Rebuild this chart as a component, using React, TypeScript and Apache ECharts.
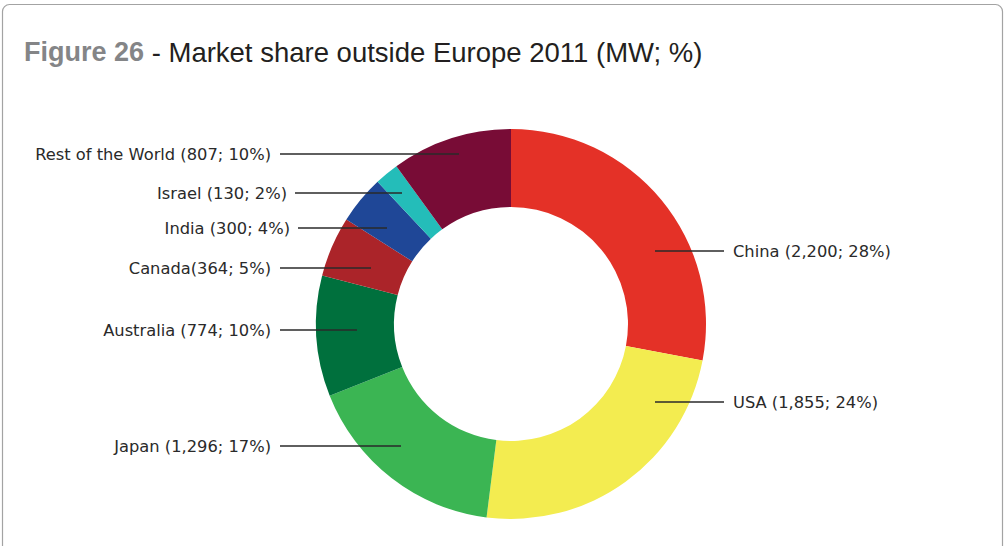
import React, { useEffect, useRef } from "react";
import * as echarts from "echarts";

const countries = ["China", "USA", "Japan", "Australia", "Canada", "India", "Israel", "Rest of the World"];
const capacityMW = [2200, 1855, 1296, 774, 364, 300, 130, 807];
const sharePct = [28, 24, 17, 10, 5, 4, 2, 10];
const colors = ["#e43127", "#f3ec50", "#3bb553", "#00703d", "#ab2429", "#1f4797", "#24bdb9", "#780c36"];

// label layout (pixel positions of label text and guide lines)
const labelLayoutSpec = [
  { side: "right", y: 251, x0: 655, x1: 724, tx: 733 },
  { side: "right", y: 402, x0: 655, x1: 724, tx: 733 },
  { side: "left", y: 446, x0: 401, x1: 280, tx: 271 },
  { side: "left", y: 330, x0: 357, x1: 280, tx: 271 },
  { side: "left", y: 268, x0: 371, x1: 280, tx: 271 },
  { side: "left", y: 228, x0: 387, x1: 298, tx: 290 },
  { side: "left", y: 193, x0: 402, x1: 295, tx: 287 },
  { side: "left", y: 154, x0: 459, x1: 280, tx: 271 },
];

const fmt = (v: number) => v.toLocaleString("en-US");

export default function App() {
  const ref = useRef<HTMLDivElement>(null);
  useEffect(() => {
    if (!ref.current) return;
    const chart = echarts.init(ref.current, null, { renderer: "svg" });
    const makeData = (fill: boolean) =>
      countries.map((name, i) => ({
        name,
        value: sharePct[i],
        mw: capacityMW[i],
        itemStyle: { color: fill ? colors[i] : "rgba(0,0,0,0)" },
      }));
    const common = {
      type: "pie",
      center: [511, 324],
      radius: [117, 195],
      startAngle: 90,
      clockwise: true,
      silent: true,
      emphasis: { disabled: true },
    };
    chart.setOption({
      animation: false,
      graphic: [
        {
          type: "rect",
          shape: { x: 2.5, y: 4.5, width: 1000, height: 580, r: 7 },
          style: { fill: "#fff", stroke: "#a3a3a3", lineWidth: 1.2 },
          z: -10,
        },
      ],
      title: {
        left: 24,
        top: 36,
        padding: 0,
        text: "{a|Figure 26}{b| - Market share outside Europe 2011 (MW; %)}",
        textStyle: {
          rich: {
            a: { fontFamily: "Liberation Sans", fontSize: 27, fontWeight: "bold", color: "#848587", lineHeight: 32 },
            b: { fontFamily: "Liberation Sans", fontSize: 27.5, fontWeight: "normal", color: "#231f20", lineHeight: 32 },
          },
        },
      },
      series: [
        {
          ...common,
          z: 2,
          data: makeData(true),
          itemStyle: { borderWidth: 0 },
          label: { show: false },
          labelLine: { show: false },
        },
        {
          ...common,
          z: 5,
          data: makeData(false),
          itemStyle: { borderWidth: 0 },
          label: {
            show: true,
            position: "outside",
            fontFamily: "DejaVu Sans",
            fontSize: 16.3,
            color: "#2a2a2a",
            formatter: (p: any) =>
              `${p.name}${p.name === "Canada" ? "" : " "}(${fmt(capacityMW[p.dataIndex])}; ${sharePct[p.dataIndex]}%)`,
          },
          labelLine: {
            show: true,
            lineStyle: { color: "#2a2a2a", width: 1.4 },
          },
          labelLayout: (params: any) => {
            const L = labelLayoutSpec[params.dataIndex];
            return {
              x: L.tx,
              y: L.y,
              align: L.side === "right" ? "left" : "right",
              verticalAlign: "middle",
              labelLinePoints: [
                [L.x0, L.y],
                [(L.x0 + L.x1) / 2, L.y],
                [L.x1, L.y],
              ],
            };
          },
        },
      ],
    });
    return () => chart.dispose();
  }, []);
  return (
    <div
      ref={ref}
      style={{ position: "fixed", left: 0, top: 0, width: 1005, height: 546, background: "#fff" }}
    />
  );
}
